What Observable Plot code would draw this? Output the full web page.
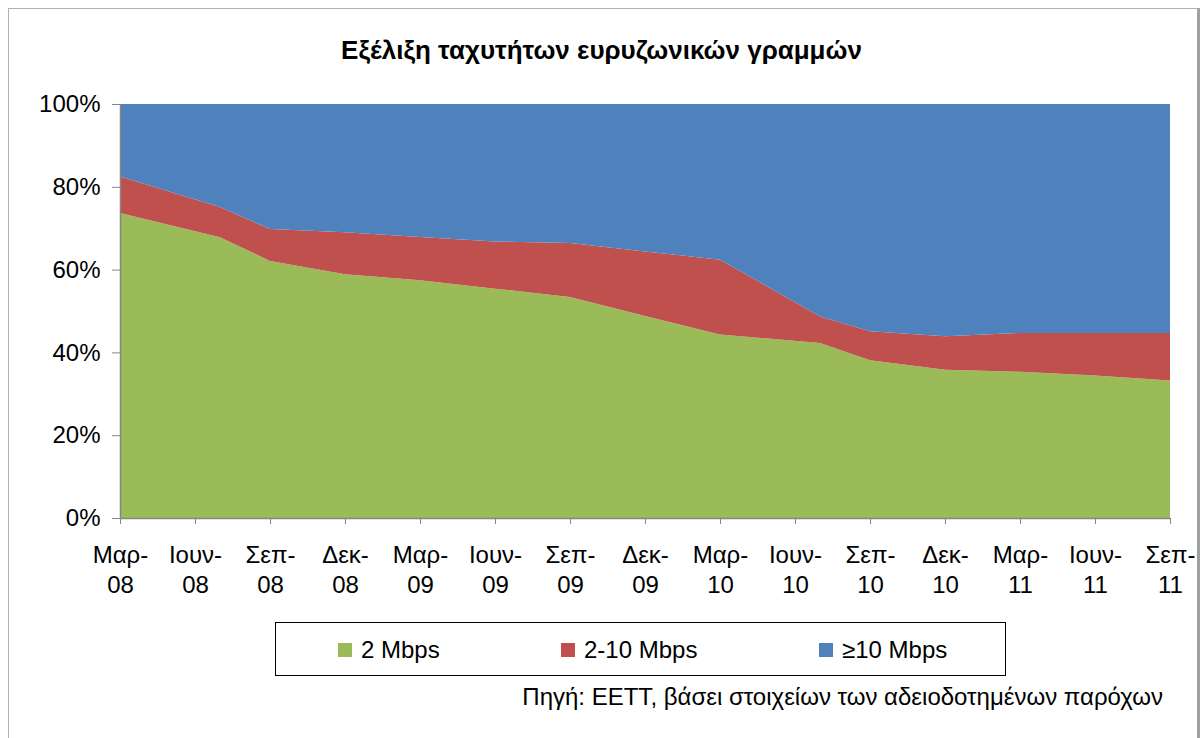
<!DOCTYPE html>
<html>
<head>
<meta charset="utf-8">
<script src="https://cdn.jsdelivr.net/npm/d3@7"></script>
<script src="https://cdn.jsdelivr.net/npm/@observablehq/plot@0.6"></script>
<style>
  html, body { margin: 0; padding: 0; background: #fff; }
  body { font-family: "Liberation Sans", Arial, sans-serif; }
  #wrap { position: relative; width: 1203px; height: 738px; overflow: hidden; }
  #frame { position: absolute; left: 8px; top: 8px; width: 1188px; height: 760px;
           border-left: 1px solid #b0b0b0; border-top: 1px solid #b0b0b0; border-right: 3px solid #a0a0a0; }
  #title { position: absolute; left: 0; width: 1203px; top: 35px; text-align: center;
           font-weight: bold; font-size: 26px; line-height: 30px; color: #000; }
  #chart { position: absolute; left: 0; top: 0; }
  #legend { position: absolute; left: 275px; top: 622px; width: 731px; height: 54px;
            border: 1px solid #000; box-sizing: border-box; }
  .item { position: absolute; top: 0; height: 54px; display: flex; align-items: center;
          font-size: 24px; color: #000; }
  .sw { display: inline-block; width: 14px; height: 14px; margin-right: 9px; }
  #caption { position: absolute; right: 40px; top: 683px; font-size: 24px; line-height: 28px; color: #000; }
</style>
</head>
<body>
<div id="wrap">
  <div id="frame"></div>
  <div id="title">Εξέλιξη ταχυτήτων ευρυζωνικών γραμμών</div>
  <div id="chart"></div>
  <div id="legend"></div>
  <div id="caption">Πηγή: ΕΕΤΤ, βάσει στοιχείων των αδειοδοτημένων παρόχων</div>
</div>
<script>
// Observation dates (year-month)
const dates = ["2008-03","2008-07","2008-09","2008-12","2009-03","2009-06","2009-09","2009-12",
               "2010-03","2010-07","2010-09","2010-12","2011-03","2011-06","2011-09"];
// Series shares (%)
const seriesNames = ["2 Mbps", "2-10 Mbps", "≥10 Mbps"];
const low  = [73.7, 67.8, 62.1, 58.9, 57.4, 55.4, 53.4, 48.8, 44.3, 42.3, 38.1, 35.8, 35.3, 34.4, 33.2];
const mid  = [ 8.8,  7.3,  7.7, 10.1, 10.5, 11.4, 13.0, 15.6, 18.1,  6.4,  7.0,  8.1,  9.4, 10.3, 11.5];
const high = [17.5, 24.9, 30.2, 31.0, 32.1, 33.2, 33.6, 35.6, 37.6, 51.3, 54.9, 56.1, 55.3, 55.3, 55.3];
const colors = ["#9BBB59", "#C0504D", "#4F81BD"];
// Axis ticks (quarterly)
const tickDates = ["2008-03","2008-06","2008-09","2008-12","2009-03","2009-06","2009-09","2009-12",
                   "2010-03","2010-06","2010-09","2010-12","2011-03","2011-06","2011-09"];
const tickLabels = ["Μαρ-\n08","Ιουν-\n08","Σεπ-\n08","Δεκ-\n08","Μαρ-\n09","Ιουν-\n09","Σεπ-\n09","Δεκ-\n09",
                    "Μαρ-\n10","Ιουν-\n10","Σεπ-\n10","Δεκ-\n10","Μαρ-\n11","Ιουν-\n11","Σεπ-\n11"];
const yTicks = [0, 20, 40, 60, 80, 100];
const caption = "Πηγή: ΕΕΤΤ, βάσει στοιχείων των αδειοδοτημένων παρόχων";

// month index relative to first date (Excel date axis with month base unit)
const m0 = (() => { const [y, m] = dates[0].split("-").map(Number); return y * 12 + m; })();
const monthIdx = s => { const [y, m] = s.split("-").map(Number); return y * 12 + m - m0; };

const allSeries = [low, mid, high];
const data = [];
allSeries.forEach((vals, si) => {
  vals.forEach((v, i) => data.push({ series: seriesNames[si], t: monthIdx(dates[i]), v }));
});
const tickPos = tickDates.map(monthIdx);
const labelByPos = new Map(tickPos.map((p, i) => [p, tickLabels[i]]));

const chart = Plot.plot({
  width: 1203,
  height: 610,
  marginTop: 104,
  marginBottom: 92,
  marginLeft: 120,
  marginRight: 33,
  style: { fontFamily: "'Liberation Sans', Arial, sans-serif", fontSize: "24px", color: "#000", background: "transparent" },
  x: { type: "linear", domain: [tickPos[0], tickPos[tickPos.length - 1]] },
  y: { domain: [0, 100] },
  color: { domain: seriesNames, range: colors },
  marks: [
    Plot.areaY(data, { x: "t", y: "v", fill: "series", z: "series", order: seriesNames }),
    Plot.ruleY([0], { stroke: "#868686", strokeWidth: 1.5 }),
    Plot.ruleX([tickPos[0]], { stroke: "#868686", strokeWidth: 1.5 }),
    Plot.axisY({ ticks: yTicks, tickFormat: d => d + "%", tickSize: 8, tickPadding: 12,
                 stroke: "#868686", fill: "#000", fontSize: 24, label: null }),
    Plot.axisX({ ticks: tickPos, tickFormat: d => labelByPos.get(d), tickSize: 6, tickPadding: 17,
                 stroke: "#868686", fill: "#000", fontSize: 24, lineHeight: 1.25, label: null })
  ]
});
document.getElementById("chart").appendChild(chart);

// legend
const legend = document.getElementById("legend");
const legendX = [62, 285, 543];
seriesNames.forEach((name, i) => {
  const it = document.createElement("div");
  it.className = "item";
  it.style.left = legendX[i] + "px";
  const sw = document.createElement("span");
  sw.className = "sw";
  sw.style.background = colors[i];
  it.appendChild(sw);
  it.appendChild(document.createTextNode(name));
  legend.appendChild(it);
});
document.getElementById("caption").textContent = caption;
</script>
</body>
</html>
